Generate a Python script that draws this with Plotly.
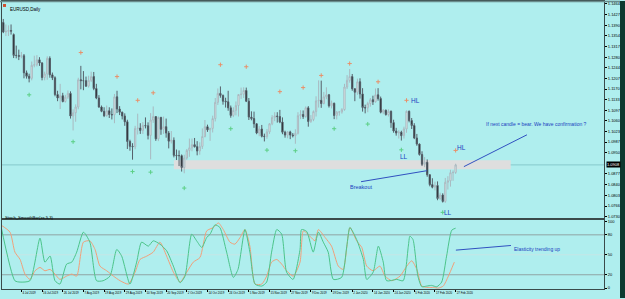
import plotly.graph_objects as go

W, H = 625, 299

# ---------------- DATA ----------------
# Daily EURUSD candles, 24 Jun 2019 .. 27 Feb 2020 (bar index = position)
opens = [1.1370,1.1400,1.1367,1.1369,1.1372,1.1358,1.1286,1.1286,1.1283,1.1285,
         1.1226,1.1214,1.1207,1.1252,1.1254,1.1271,1.1260,1.1210,1.1222,1.1276,
         1.1219,1.1209,1.1151,1.1139,1.1147,1.1127,1.1142,1.1155,1.1077,1.1088,
         1.1108,1.1202,1.1199,1.1199,1.1180,1.1200,1.1213,1.1172,1.1139,1.1108,
         1.1093,1.1078,1.1095,1.1082,1.1081,1.1143,1.1101,1.1090,1.1077,1.1057,
         1.0989,1.0972,1.0971,1.1034,1.1035,1.1027,1.1044,1.1043,1.1010,1.1063,
         1.1075,1.0998,1.1072,1.1031,1.1040,1.1018,1.0990,1.0993,1.0941,1.0940,
         1.0940,1.0899,1.0932,1.0958,1.0967,1.0978,1.0971,1.0956,1.0972,1.1006,
         1.1040,1.1029,1.1034,1.1068,1.1124,1.1155,1.1148,1.1128,1.1126,1.1105,
         1.1079,1.1096,1.1113,1.1151,1.1152,1.1165,1.1128,1.1073,1.1068,1.1050,
         1.1018,1.1032,1.1007,1.1006,1.1022,1.1050,1.1072,1.1077,1.1075,1.1056,
         1.1021,1.1011,1.1022,1.1011,1.1009,1.1017,1.1078,1.1082,1.1075,1.1105,
         1.1058,1.1065,1.1092,1.1129,1.1131,1.1120,1.1143,1.1150,1.1112,1.1121,
         1.1079,1.1090,1.1091,1.1099,1.1177,1.1200,1.1213,1.1171,1.1159,1.1195,
         1.1153,1.1106,1.1105,1.1120,1.1133,1.1126,1.1150,1.1137,1.1090,1.1097,
         1.1082,1.1093,1.1054,1.1025,1.1018,1.1021,1.1009,1.1032,1.1093,1.1061,
         1.1044,1.1001,1.0980,1.0944,1.0910,1.0917,1.0874,1.0840,1.0831,1.0837,
         1.0792,1.0804,1.0782,1.0848,1.0853,1.0881,1.0882]
highs = [1.1415,1.1412,1.1393,1.1390,1.1393,1.1362,1.1320,1.1306,1.1298,1.1291,
         1.1234,1.1223,1.1265,1.1285,1.1287,1.1280,1.1263,1.1230,1.1283,1.1283,
         1.1227,1.1214,1.1164,1.1188,1.1157,1.1150,1.1165,1.1162,1.1100,1.1117,
         1.1209,1.1250,1.1232,1.1213,1.1216,1.1230,1.1229,1.1188,1.1149,1.1113,
         1.1107,1.1113,1.1107,1.1103,1.1153,1.1164,1.1111,1.1092,1.1086,1.1064,
         1.0995,1.0983,1.1043,1.1085,1.1052,1.1056,1.1072,1.1055,1.1087,1.1110,
         1.1075,1.1075,1.1074,1.1075,1.1068,1.1025,1.1025,1.1003,1.0961,1.0958,
         1.0944,1.0943,1.0963,1.0999,1.0999,1.1001,1.0990,1.0986,1.1034,1.1063,
         1.1047,1.1036,1.1078,1.1139,1.1172,1.1179,1.1151,1.1140,1.1164,1.1113,
         1.1107,1.1127,1.1152,1.1175,1.1176,1.1175,1.1139,1.1093,1.1092,1.1052,
         1.1042,1.1046,1.1016,1.1032,1.1052,1.1080,1.1090,1.1090,1.1098,1.1072,
         1.1026,1.1025,1.1026,1.1018,1.1031,1.1090,1.1097,1.1096,1.1110,1.1111,
         1.1080,1.1096,1.1145,1.1200,1.1199,1.1160,1.1176,1.1153,1.1130,1.1123,
         1.1094,1.1094,1.1104,1.1188,1.1218,1.1239,1.1222,1.1172,1.1206,1.1207,
         1.1173,1.1116,1.1126,1.1139,1.1147,1.1172,1.1173,1.1144,1.1101,1.1099,
         1.1100,1.1096,1.1064,1.1036,1.1028,1.1026,1.1040,1.1096,1.1096,1.1070,
         1.1052,1.1015,1.0982,1.0955,1.0935,1.0927,1.0875,1.0862,1.0850,1.0851,
         1.0812,1.0810,1.0863,1.0869,1.0891,1.0889,1.0912]
lows  = [1.1363,1.1363,1.1353,1.1353,1.1358,1.1277,1.1276,1.1270,1.1276,1.1207,
         1.1206,1.1193,1.1200,1.1245,1.1248,1.1250,1.1200,1.1200,1.1202,1.1209,
         1.1201,1.1145,1.1128,1.1101,1.1124,1.1123,1.1136,1.1068,1.1027,1.1057,
         1.1100,1.1169,1.1166,1.1178,1.1175,1.1194,1.1166,1.1135,1.1105,1.1090,
         1.1073,1.1075,1.1070,1.1065,1.1052,1.1087,1.1080,1.1065,1.1043,1.0963,
         1.0957,1.0926,1.0962,1.1013,1.1015,1.1015,1.1034,1.0996,1.0927,1.1053,
         1.0991,1.0990,1.1012,1.1015,1.1002,1.0965,1.0982,1.0934,1.0925,1.0904,
         1.0885,1.0879,1.0926,1.0936,1.0955,1.0968,1.0941,1.0943,1.0963,1.1003,
         1.1022,1.0991,1.1020,1.1058,1.1115,1.1140,1.1116,1.1106,1.1095,1.1071,
         1.1073,1.1079,1.1075,1.1136,1.1139,1.1125,1.1063,1.1062,1.1036,1.1014,
         1.1007,1.1003,1.0989,1.0998,1.1015,1.1045,1.1059,1.1054,1.1052,1.1014,
         1.1002,1.1000,1.0997,1.1003,1.0981,1.1013,1.1066,1.1067,1.1071,1.1040,
         1.1053,1.1059,1.1075,1.1106,1.1105,1.1117,1.1135,1.1106,1.1103,1.1066,
         1.1065,1.1078,1.1085,1.1095,1.1170,1.1192,1.1164,1.1128,1.1150,1.1137,
         1.1092,1.1086,1.1090,1.1109,1.1115,1.1123,1.1130,1.1086,1.1083,1.1078,
         1.1075,1.1036,1.1019,1.1009,1.0999,1.0992,1.0999,1.1019,1.1055,1.1032,
         1.0997,1.0974,1.0940,1.0904,1.0900,1.0867,1.0834,1.0827,1.0820,1.0786,
         1.0787,1.0778,1.0777,1.0823,1.0833,1.0853,1.0877]
closes = [1.1400,1.1367,1.1369,1.1372,1.1370,1.1286,1.1286,1.1283,1.1285,1.1226,
          1.1214,1.1207,1.1252,1.1254,1.1271,1.1260,1.1210,1.1222,1.1276,1.1219,
          1.1209,1.1151,1.1139,1.1147,1.1127,1.1142,1.1155,1.1077,1.1088,1.1108,
          1.1202,1.1199,1.1199,1.1180,1.1200,1.1213,1.1172,1.1139,1.1108,1.1093,
          1.1078,1.1095,1.1082,1.1081,1.1143,1.1101,1.1090,1.1077,1.1057,1.0989,
          1.0972,1.0971,1.1034,1.1035,1.1027,1.1044,1.1043,1.1010,1.1063,1.1075,
          1.0998,1.1072,1.1031,1.1040,1.1018,1.0990,1.0993,1.0941,1.0940,1.0940,
          1.0899,1.0932,1.0958,1.0967,1.0978,1.0971,1.0956,1.0972,1.1006,1.1040,
          1.1029,1.1034,1.1068,1.1124,1.1155,1.1148,1.1128,1.1126,1.1105,1.1079,
          1.1096,1.1113,1.1151,1.1152,1.1165,1.1128,1.1073,1.1068,1.1050,1.1018,
          1.1032,1.1007,1.1006,1.1022,1.1050,1.1072,1.1077,1.1075,1.1056,1.1021,
          1.1011,1.1022,1.1011,1.1009,1.1017,1.1078,1.1082,1.1075,1.1105,1.1058,
          1.1065,1.1092,1.1129,1.1131,1.1120,1.1143,1.1150,1.1112,1.1121,1.1079,
          1.1090,1.1091,1.1099,1.1177,1.1200,1.1213,1.1171,1.1159,1.1195,1.1153,
          1.1106,1.1105,1.1120,1.1133,1.1126,1.1150,1.1137,1.1090,1.1097,1.1082,
          1.1093,1.1054,1.1025,1.1018,1.1021,1.1009,1.1032,1.1093,1.1061,1.1044,
          1.1001,1.0980,1.0944,1.0910,1.0917,1.0874,1.0840,1.0831,1.0837,1.0792,
          1.0804,1.0782,1.0848,1.0853,1.0881,1.0882,1.0908]

# date labels every 8 bars
date_labels = ["24 Jun 2019","4 Jul 2019","16 Jul 2019","26 Jul 2019","7 Aug 2019",
               "19 Aug 2019","29 Aug 2019","10 Sep 2019","20 Sep 2019","2 Oct 2019",
               "14 Oct 2019","24 Oct 2019","5 Nov 2019","15 Nov 2019","27 Nov 2019",
               "9 Dec 2019","19 Dec 2019","2 Jan 2020","14 Jan 2020","24 Jan 2020",
               "5 Feb 2020","17 Feb 2020","27 Feb 2020"]
price_ticks = [1.1464,1.1427,1.1390,1.1354,1.1317,1.1280,1.1244,1.1207,1.1170,1.1133,
               1.1097,1.1060,1.1023,1.0987,1.0950,1.0877,1.0840,1.0803,1.0766,1.0730]
stoch_ticks = [0, 20, 50, 80, 100]
stoch_levels = [20, 80]

# fractals (bar index, price)
frac_up_x = [31, 45, 53, 59, 85, 95, 108, 117, 124, 135, 146, 157, 176]
frac_up_y = [1.1296, 1.1213, 1.1131, 1.1157, 1.1254, 1.1247, 1.1161, 1.1175, 1.1217, 1.1258, 1.1195, 1.1131, 1.0958]
frac_dn_x = [11, 28, 51, 58, 71, 89, 103, 114, 129, 142, 155, 171]
frac_dn_y = [1.1150, 1.0988, 1.0885, 1.0883, 1.0828, 1.1033, 1.0959, 1.0957, 1.1033, 1.1049, 1.0960, 1.0744]

# stochastic vertices (bar index, value)
main_x = [0,5.5,7.5,11.3,15.2,17.1,19.1,21,22.9,25.5,27.5,29.4,32,34.5,37.1,39.6,42.3,44.9,46.8,50,
          52.6,54.5,57.1,59,61.6,64.2,66.8,69.4,71.3,73.9,75.8,77.8,79.7,81,82.9,84.8,87.4,90,91.8,
          94.5,96.4,98.4,101,102.9,104.8,106.8,108.7,110.6,113.1,115.8,116.4,118.4,120.9,122.9,
          124.8,126.7,128.7,131.9,133.9,135.1,137.7,140.3,141.6,144.1,146.1,148,149.3,153.2,155.7,
          157.7,158.3,159.5,161.4,162.9,164.8,166.7,168.7,170.6,172.5,174.5,176]
main_v = [95,11,9,11,75,39,48,11,6,36,39,54,84,69,11,11,18,58,48,6,
          39,69,63,71,66,56,33,8,18,81,71,61,76,81,95,91,54,16,28,
          88,54,6,3,9,54,88,81,24,13,58,88,85,54,84,
          69,54,13,16,63,91,73,43,13,24,63,39,11,13,11,
          63,78,73,18,2,3,4,2,9,48,87,90]
sig_x = [0,3.6,5.5,7.5,9.4,11.3,13.3,15.2,17.1,19.1,21,22.9,25.5,27.5,29.4,32,34.5,36.5,38.4,41,
         43.6,46.2,49.4,52,53.9,56.5,59,61.6,64.2,66.8,69.4,72,74.5,77.1,79.7,82.3,84.2,86.1,88.7,
         90.6,92.6,94.5,96.4,98.4,101,102.9,104.8,106.8,108.7,110.6,113.2,115.8,117.1,119.6,121.6,
         122.9,125.5,128,130.6,132.5,135.1,137.7,139.7,141.6,144.1,146.7,148.7,151.3,154.5,157.1,
         159,161,162.9,165.4,167.4,169.3,171.2,173.2,175.5]
sig_v = [95,84,54,43,21,13,26,31,26,28,21,13,18,21,18,69,71,58,33,26,
         18,11,6,24,43,48,54,69,48,24,9,24,39,46,86,91,98,88,69,
         66,76,88,63,6,6,18,39,43,36,26,18,39,86,78,71,
         88,76,63,33,28,91,71,61,33,26,33,18,11,18,33,
         41,28,3,1,1,0,3,18,39]

current_price = 1.0908
zone_x = [67, 197.3]
zone_y = [1.0893, 1.0924]

C_TEXT = "#2040c0"
C_BG = "#AFEEEE"

X_LEFT, X_RIGHT = 2, 604   # plot area edges in px

fig = go.Figure()

# zone (behind)
fig.add_shape(type="rect", xref="x", yref="y", x0=zone_x[0], x1=zone_x[1],
              y0=zone_y[0], y1=zone_y[1], fillcolor="#dedede", line_width=0, layer="below")
fig.add_shape(type="line", xref="x domain", yref="y", x0=0, x1=1,
              y0=current_price, y1=current_price, line=dict(color="#86c9cc", width=1), layer="below")

fig.add_trace(go.Candlestick(
    x=list(range(len(opens))), open=opens, high=highs, low=lows, close=closes,
    increasing=dict(line=dict(color="#a9b9c0", width=1), fillcolor="#f2f2f2"),
    decreasing=dict(line=dict(color="#56606a", width=1), fillcolor="#000000"),
    whiskerwidth=0, xaxis="x", yaxis="y", showlegend=False, hoverinfo="skip"))

fig.add_trace(go.Scatter(x=frac_up_x, y=frac_up_y, mode="markers", xaxis="x", yaxis="y",
    marker=dict(symbol="cross-thin", size=3, line=dict(color="#e8906a", width=1)), showlegend=False))
fig.add_trace(go.Scatter(x=frac_dn_x, y=frac_dn_y, mode="markers", xaxis="x", yaxis="y",
    marker=dict(symbol="cross-thin", size=3, line=dict(color="#5ccf86", width=1)), showlegend=False))

# stochastic
for lv in stoch_levels:
    fig.add_shape(type="line", xref="x2 domain", yref="y2", x0=0, x1=1, y0=lv, y1=lv,
                  line=dict(color="#8fa3a3", width=1), layer="below")
fig.add_shape(type="line", xref="x2 domain", yref="y2", x0=0, x1=1, y0=50, y1=50,
              line=dict(color="#c6e6e6", width=1), layer="below")
fig.add_trace(go.Scatter(x=sig_x, y=sig_v, mode="lines", xaxis="x2", yaxis="y2",
    line=dict(color="#f0a07a", width=1, shape="spline", smoothing=0.6), showlegend=False))
fig.add_trace(go.Scatter(x=main_x, y=main_v, mode="lines", xaxis="x2", yaxis="y2",
    line=dict(color="#4cc48a", width=1, shape="spline", smoothing=0.6), showlegend=False))

# drawn trend lines
line_breakout = ([139.4, 164.9], [1.0850, 1.0888])
line_confirm = ([179.2, 203.6], [1.0902, 1.1012])
line_elastic = ([176.1, 197.4], [57, 64])
for (xs, ys), ax, ay in [(line_breakout, "x", "y"), (line_confirm, "x", "y"), (line_elastic, "x2", "y2")]:
    fig.add_shape(type="line", xref=ax, yref=ay, x0=xs[0], x1=xs[1], y0=ys[0], y1=ys[1],
                  line=dict(color="#3050c0", width=1))

FONT = "Liberation Sans"
def note(text, x, y, size, xr="x", yr="y", color=C_TEXT, **kw):
    fig.add_annotation(text=text, x=x, y=y, xref=xr, yref=yr, showarrow=False,
                       font=dict(family=FONT, size=size, color=color), **kw)

note("HL", 160.3, 1.1129, 6.5)
note("LL", 156.2, 1.0938, 6.5)
note("HL", 178.1, 1.0968, 6.5)
note("LL", 173.2, 1.0744, 6.5)
note("Breakout", 139.4, 1.0830, 5.5)
note("If next candle = bear. We have confirmation ?", 207.1, 1.1050, 5)
note("Elasticity trending up", 207.5, 59, 5, xr="x2", yr="y2")

# titles
note("EURUSD,Daily", 8/W, 1-4/H, 4.5, xr="paper", yr="paper", color="#000", xanchor="left")
fig.add_shape(type="rect", xref="paper", yref="paper", x0=3/W, x1=6/W, y0=1-6/H, y1=1-3/H,
              fillcolor="#d05030", line_width=0)
note("Stoch_SmoothBar(xx,5,3)", 3/W, 1-222/H, 4.2, xr="paper", yr="paper", color="#000", xanchor="left")

# bid price label
note("1.0908", 606/W, current_price, 4, xr="paper", yr="y", color="#ffffff",
     xanchor="left", bgcolor="#000000", borderpad=0)

# dark right window edge
fig.add_shape(type="rect", xref="paper", yref="paper", x0=620/W, x1=1, y0=0, y1=1,
              fillcolor="#0d3a30", line_width=0)
fig.add_shape(type="line", xref="paper", yref="paper", x0=0, x1=620/W, y0=1-0.5/H, y1=1-0.5/H,
              line=dict(color="#6a8c8c", width=1.5))

xdom = [X_LEFT/W, X_RIGHT/W]
xr = [0.5, 233.4]
axfont = dict(family=FONT, size=4, color="#000")
datefont = dict(family=FONT, size=2.9, color="#000")
fig.update_layout(
    width=W, height=H, margin=dict(l=0, r=0, t=0, b=0),
    paper_bgcolor=C_BG, plot_bgcolor=C_BG,
    xaxis=dict(domain=xdom, range=xr, anchor="y", showgrid=False, zeroline=False,
               showticklabels=False, showline=True, linecolor="#3a4a4a", linewidth=1.5,
               mirror=True, rangeslider=dict(visible=False), ticks=""),
    yaxis=dict(domain=[1-218/H, 1-1/H], range=[1.07262, 1.14706], side="right",
               tickvals=price_ticks, tickformat=".4f", ticks="outside", ticklen=2,
               tickcolor="#000", tickfont=axfont, showgrid=False, zeroline=False,
               showline=True, linecolor="#3a4a4a", linewidth=1, mirror=True),
    xaxis2=dict(domain=xdom, range=xr, anchor="y2", showgrid=False, zeroline=False,
                tickvals=[8*k for k in range(len(date_labels))], ticktext=date_labels,
                tickangle=0, ticks="outside", ticklen=2, tickcolor="#000", tickfont=datefont,
                ticklabelposition="outside right", showline=True, linecolor="#3a4a4a",
                linewidth=1, mirror=True),
    yaxis2=dict(domain=[1-290/H, 1-219/H], range=[-1.5, 104.5], side="right",
                tickvals=stoch_ticks, ticks="outside", ticklen=2, tickcolor="#000",
                tickfont=axfont, showgrid=False, zeroline=False,
                showline=True, linecolor="#3a4a4a", linewidth=1, mirror=True),
)

fig.write_html("out.html")
